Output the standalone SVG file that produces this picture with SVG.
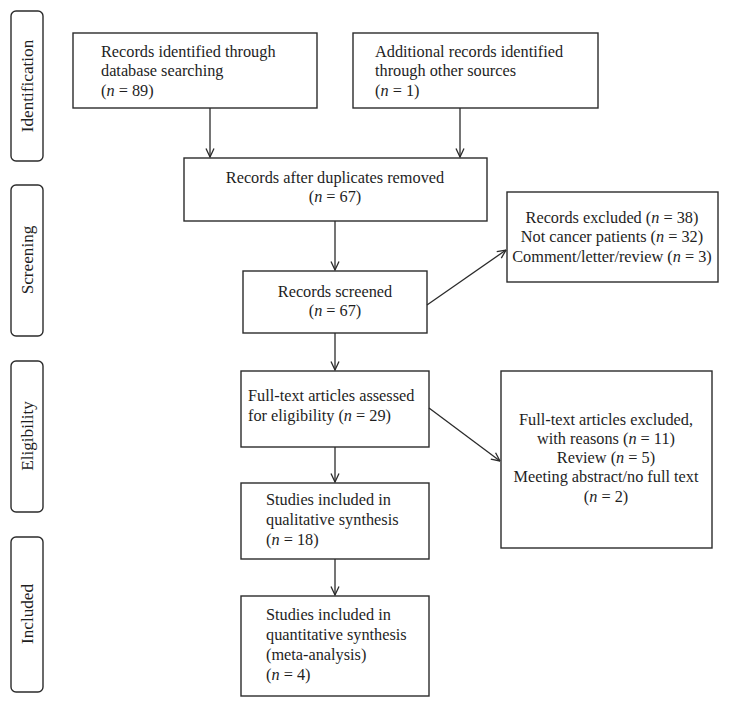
<svg xmlns="http://www.w3.org/2000/svg" width="729" height="707" viewBox="0 0 729 707">
<style>
.box{fill:#fff;stroke:#2b2b2b;stroke-width:1.4}
.side{fill:#fff;stroke:#2b2b2b;stroke-width:1.4}
text{font-family:"Liberation Serif","Times New Roman",serif;font-size:16.3px;fill:#1e1e1e}
.s{font-size:17.2px}
.c{text-anchor:middle}
.e{stroke:#2b2b2b;stroke-width:1.3;fill:none;marker-end:url(#arr)}
</style>
<defs>
<marker id="arr" viewBox="0 0 10 10" refX="9.5" refY="5" markerWidth="10" markerHeight="10" markerUnits="userSpaceOnUse" orient="auto">
<path d="M1,1 L9.5,5 L1,9" fill="none" stroke="#2b2b2b" stroke-width="1.3"/>
</marker>
</defs>
<rect width="729" height="707" fill="#fff"/>
<g id="phase-identification"><rect class="side" x="11" y="11" width="32" height="150" rx="5"/><text class="c s" transform="translate(33,86) rotate(-90)">Identification</text></g>
<g id="phase-screening"><rect class="side" x="11" y="185" width="32" height="151" rx="5"/><text class="c s" transform="translate(33,260) rotate(-90)">Screening</text></g>
<g id="phase-eligibility"><rect class="side" x="11" y="361" width="32" height="151" rx="5"/><text class="c s" transform="translate(33,436) rotate(-90)">Eligibility</text></g>
<g id="phase-included"><rect class="side" x="11" y="537" width="32" height="155" rx="5"/><text class="c s" transform="translate(33,614) rotate(-90)">Included</text></g>

<g id="db"><rect class="box" x="73" y="33" width="244" height="75"/>
<text x="101" y="56.5">Records identified through</text><text x="101" y="76">database searching</text><text x="101" y="95.5">(<tspan font-style="italic">n</tspan> = 89)</text></g>
<g id="other"><rect class="box" x="353" y="33" width="245" height="75"/>
<text x="375" y="56.5">Additional records identified</text><text x="375" y="76">through other sources</text><text x="375" y="95.5">(<tspan font-style="italic">n</tspan> = 1)</text></g>
<g id="dup"><rect class="box" x="184" y="158" width="303" height="63"/>
<text class="c" x="335" y="182.5">Records after duplicates removed</text><text class="c" x="335" y="202">(<tspan font-style="italic">n</tspan> = 67)</text></g>
<g id="screened"><rect class="box" x="243" y="271" width="184" height="62"/>
<text class="c" x="335" y="296.5">Records screened</text><text class="c" x="335" y="316">(<tspan font-style="italic">n</tspan> = 67)</text></g>
<g id="excluded1"><rect class="box" x="507" y="192" width="211" height="90"/>
<text class="c" x="612" y="222.5">Records excluded (<tspan font-style="italic">n</tspan> = 38)</text><text class="c" x="612" y="242">Not cancer patients (<tspan font-style="italic">n</tspan> = 32)</text><text class="c" x="612" y="261.5">Comment/letter/review (<tspan font-style="italic">n</tspan> = 3)</text></g>
<g id="fulltext"><rect class="box" x="241" y="371" width="188" height="76"/>
<text x="248" y="401">Full-text articles assessed</text><text x="248" y="420.5">for eligibility (<tspan font-style="italic">n</tspan> = 29)</text></g>
<g id="excluded2"><rect class="box" x="501" y="371" width="211" height="177"/>
<text class="c" x="606" y="425">Full-text articles excluded,</text><text class="c" x="606" y="444">with reasons (<tspan font-style="italic">n</tspan> = 11)</text><text class="c" x="606" y="462.5">Review (<tspan font-style="italic">n</tspan> = 5)</text><text class="c" x="606" y="482">Meeting abstract/no full text</text><text class="c" x="606" y="501.5">(<tspan font-style="italic">n</tspan> = 2)</text></g>
<g id="qual"><rect class="box" x="241" y="483" width="188" height="76"/>
<text x="266" y="505">Studies included in</text><text x="266" y="525">qualitative synthesis</text><text x="266" y="545">(<tspan font-style="italic">n</tspan> = 18)</text></g>
<g id="quant"><rect class="box" x="241" y="596" width="188" height="100"/>
<text x="266" y="620">Studies included in</text><text x="266" y="640">quantitative synthesis</text><text x="266" y="660">(meta-analysis)</text><text x="266" y="679.5">(<tspan font-style="italic">n</tspan> = 4)</text></g>

<g id="connectors">
<path class="e" d="M210,108 V157"/>
<path class="e" d="M460,108 V157"/>
<path class="e" d="M335,221 V270"/>
<path class="e" d="M335,333 V370"/>
<path class="e" d="M335,447 V482"/>
<path class="e" d="M335,559 V595"/>
<path class="e" d="M427,305 L506,250"/>
<path class="e" d="M429,408 L500,461"/>
</g>
</svg>
